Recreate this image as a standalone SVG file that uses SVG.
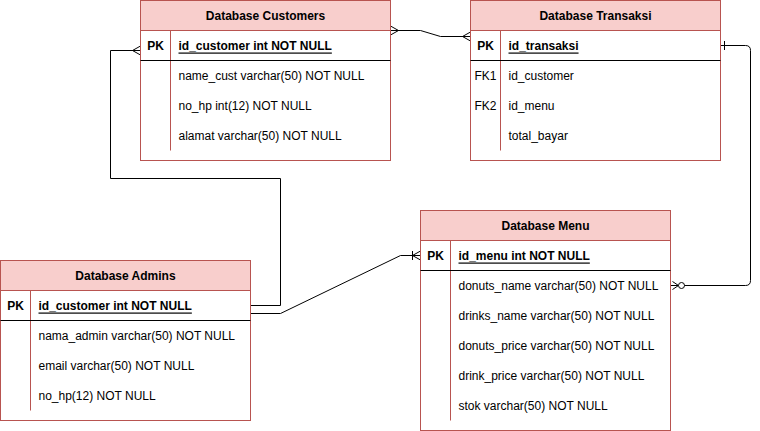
<svg xmlns="http://www.w3.org/2000/svg" width="760" height="431" viewBox="0 0 760 431">
<style>
.box{fill:#ffffff;stroke:#b85450;stroke-width:1}
.hdr{fill:#f8cecc;stroke:#b85450;stroke-width:1}
.div{stroke:#b85450;stroke-width:1;fill:none}
.sep{stroke:#000000;stroke-width:1;fill:none}
text{font-family:"Liberation Sans",Arial,Helvetica,sans-serif;font-size:12px;fill:#000000;dominant-baseline:central}
.t{font-weight:bold;text-anchor:middle}
.k{font-weight:bold;text-anchor:middle}
.fk{text-anchor:middle}
.pk{font-weight:bold;text-decoration:underline}
.edge{fill:none;stroke:#000000;stroke-width:1}
.mk{fill:none;stroke:#000000;stroke-width:1}
</style>
<defs>
<marker id="many" markerUnits="userSpaceOnUse" viewBox="-12 -6 14 12" refX="0" refY="0" markerWidth="14" markerHeight="12" orient="auto-start-reverse" overflow="visible">
<path class="mk" d="M0,-4.5 L-8,0 L0,4.5"/>
</marker>
<marker id="oneMany" markerUnits="userSpaceOnUse" viewBox="-12 -6 14 12" refX="0" refY="0" markerWidth="14" markerHeight="12" orient="auto-start-reverse" overflow="visible">
<path class="mk" d="M0,-4.5 L-8,0 L0,4.5 M-8,-4.5 L-8,4.5"/>
</marker>
<marker id="zeroMany" markerUnits="userSpaceOnUse" viewBox="-16 -6 18 12" refX="0" refY="0" markerWidth="18" markerHeight="12" orient="auto-start-reverse" overflow="visible">
<path class="mk" d="M-2,-4 L-8,0 L-2,4"/>
<circle cx="-11" cy="0" r="3" fill="#ffffff" stroke="#000000" stroke-width="1"/>
</marker>
<marker id="one" markerUnits="userSpaceOnUse" viewBox="-8 -6 10 12" refX="0" refY="0" markerWidth="10" markerHeight="12" orient="auto-start-reverse" overflow="visible">
<path class="mk" d="M-4,-4.5 L-4,4.5"/>
</marker>
</defs>
<g transform="translate(0.5,0.5)">
<g id="connectors">
<path class="edge" d="M390,30 L420,30 L440,36 L470,36" marker-start="url(#many)" marker-end="url(#many)"/>
<path class="edge" d="M140,50 L110,50 L110,178 L280,178 L280,305 L250,305" marker-start="url(#many)"/>
<path class="edge" d="M250,313 L280,313 L400,255 L420,255" marker-end="url(#oneMany)"/>
<path class="edge" d="M720,45 L745,45 Q750,45 750,50 L750,280 Q750,285 745,285 L670,285" marker-start="url(#one)" marker-end="url(#zeroMany)"/>
</g>
<g id="customers">
<rect class="box" x="140" y="0" width="250" height="160"/>
<rect class="hdr" x="140" y="0" width="250" height="30"/>
<line class="div" x1="170" y1="30" x2="170" y2="150"/>
<line class="sep" x1="140" y1="60" x2="390" y2="60"/>
<text class="t" x="265" y="15">Database Customers</text>
<text class="k" x="155" y="45">PK</text>
<text class="pk" x="178" y="45">id_customer int NOT NULL</text>
<text x="178" y="75">name_cust varchar(50) NOT NULL</text>
<text x="178" y="105">no_hp int(12) NOT NULL</text>
<text x="178" y="135">alamat varchar(50) NOT NULL</text>
</g>
<g id="transaksi">
<rect class="box" x="470" y="0" width="250" height="160"/>
<rect class="hdr" x="470" y="0" width="250" height="30"/>
<line class="div" x1="500" y1="30" x2="500" y2="150"/>
<line class="sep" x1="470" y1="60" x2="720" y2="60"/>
<text class="t" x="595" y="15">Database Transaksi</text>
<text class="k" x="485" y="45">PK</text>
<text class="pk" x="508" y="45">id_transaksi</text>
<text class="fk" x="485" y="75">FK1</text>
<text x="508" y="75">id_customer</text>
<text class="fk" x="485" y="105">FK2</text>
<text x="508" y="105">id_menu</text>
<text x="508" y="135">total_bayar</text>
</g>
<g id="admins">
<rect class="box" x="0" y="260" width="250" height="160"/>
<rect class="hdr" x="0" y="260" width="250" height="30"/>
<line class="div" x1="30" y1="290" x2="30" y2="410"/>
<line class="sep" x1="0" y1="320" x2="250" y2="320"/>
<text class="t" x="125" y="275">Database Admins</text>
<text class="k" x="15" y="305">PK</text>
<text class="pk" x="38" y="305">id_customer int NOT NULL</text>
<text x="38" y="335">nama_admin varchar(50) NOT NULL</text>
<text x="38" y="365">email varchar(50) NOT NULL</text>
<text x="38" y="395">no_hp(12) NOT NULL</text>
</g>
<g id="menu">
<rect class="box" x="420" y="210" width="250" height="220"/>
<rect class="hdr" x="420" y="210" width="250" height="30"/>
<line class="div" x1="450" y1="240" x2="450" y2="420"/>
<line class="sep" x1="420" y1="270" x2="670" y2="270"/>
<text class="t" x="545" y="225">Database Menu</text>
<text class="k" x="435" y="255">PK</text>
<text class="pk" x="458" y="255">id_menu int NOT NULL</text>
<text x="458" y="285">donuts_name varchar(50) NOT NULL</text>
<text x="458" y="315">drinks_name varchar(50) NOT NULL</text>
<text x="458" y="345">donuts_price varchar(50) NOT NULL</text>
<text x="458" y="375">drink_price varchar(50) NOT NULL</text>
<text x="458" y="405">stok varchar(50) NOT NULL</text>
</g>
</g>
</svg>
